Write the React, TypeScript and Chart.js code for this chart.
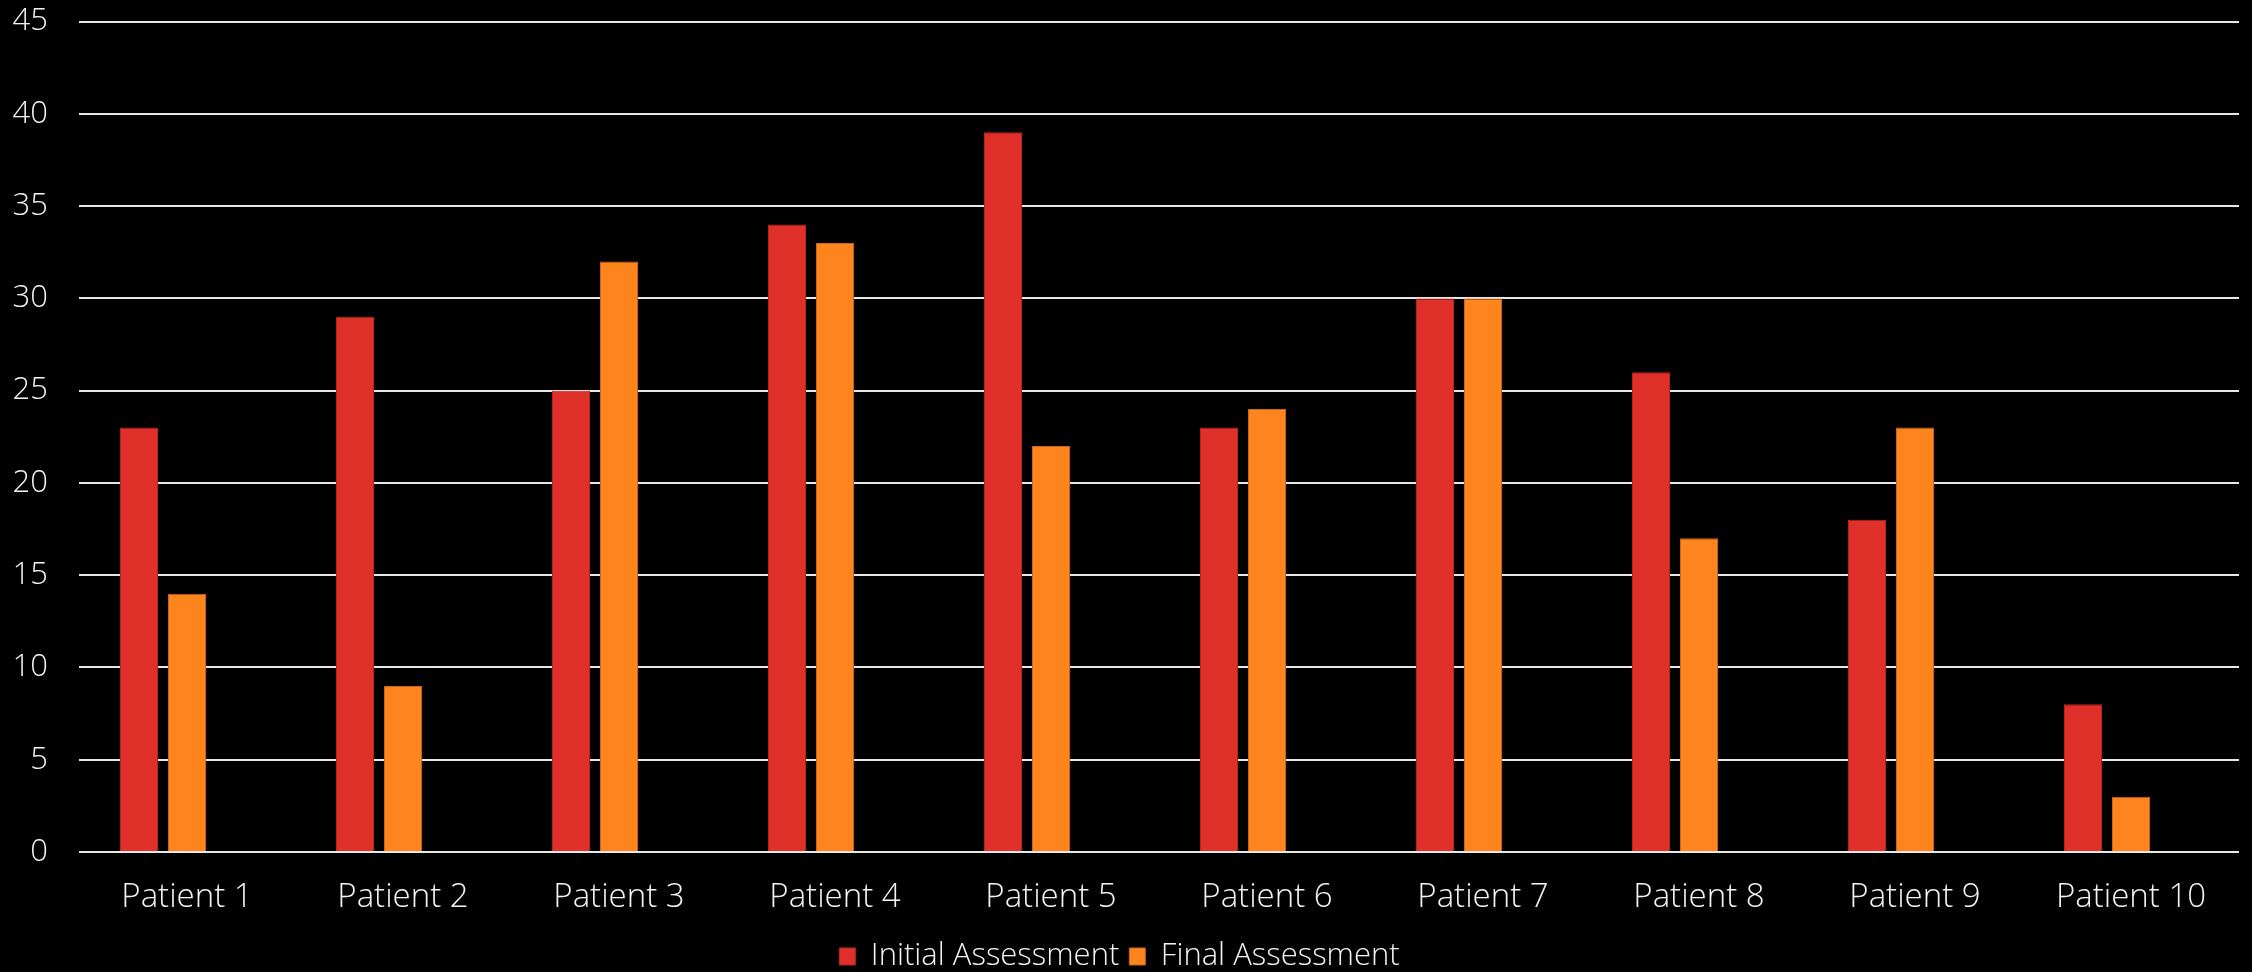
import React, { useEffect, useRef } from "react";
import { Chart, registerables } from "chart.js";

Chart.register(...registerables);

const categories = ["Patient 1", "Patient 2", "Patient 3", "Patient 4", "Patient 5", "Patient 6", "Patient 7", "Patient 8", "Patient 9", "Patient 10"];
const initialAssessment = [23, 29, 25, 34, 39, 23, 30, 26, 18, 8];
const finalAssessment = [14, 9, 32, 33, 22, 24, 30, 17, 23, 3];
const emptySeries: (number | null)[] = [null, null, null, null, null, null, null, null, null, null];
const yTicks = [0, 5, 10, 15, 20, 25, 30, 35, 40, 45];

const FONT = "'Open Sans', sans-serif";

export default function App() {
  const ref = useRef<HTMLCanvasElement | null>(null);

  useEffect(() => {
    document.body.style.margin = "0";
    document.body.style.background = "#000";
    const canvas = ref.current;
    if (!canvas) return;
    const chart = new Chart(canvas, {
      type: "bar",
      data: {
        labels: categories,
        datasets: [
          { label: "Initial Assessment", data: initialAssessment, backgroundColor: "#E0302A", borderColor: "#B8261F", borderWidth: 1 },
          { label: "Final Assessment", data: finalAssessment, backgroundColor: "#FE841E", borderColor: "#C8661A", borderWidth: 1 },
          { label: "", data: emptySeries, backgroundColor: "transparent" },
        ],
      },
      options: {
        responsive: false,
        animation: false,
        maintainAspectRatio: false,
        datasets: { bar: { categoryPercentage: 0.6667, barPercentage: 0.792 } },
        layout: { padding: { top: 0, right: 13, left: 0, bottom: 0 } },
        plugins: {
          tooltip: { enabled: false },
          legend: {
            position: "bottom",
            maxHeight: 41,
            labels: {
              color: "#f2f2f2",
              font: { family: FONT, size: 31, weight: 300 },
              boxWidth: 16,
              boxHeight: 17,
              padding: 10,
              filter: (item) => item.text !== "",
            },
          },
        },
        scales: {
          x: {
            afterFit: (scale) => {
              scale.height = 79;
            },
            grid: { display: false, drawTicks: false },
            border: { display: false },
            ticks: { color: "#f2f2f2", font: { family: FONT, size: 33, weight: 300 }, padding: 26 },
          },
          y: {
            min: 0,
            max: 45,
            afterBuildTicks: (scale) => {
              scale.ticks = yTicks.map((v) => ({ value: v }));
            },
            afterFit: (scale) => {
              scale.width = 79;
            },
            grid: { color: "#e8e8e8", lineWidth: 2, drawTicks: true, tickLength: 28, tickColor: "transparent" },
            border: { display: false },
            ticks: { color: "#f2f2f2", font: { family: FONT, size: 31, weight: 300 }, padding: 3 },
          },
        },
      },
    });
    return () => chart.destroy();
  }, []);

  return (
    <div style={{ position: "fixed", left: 0, top: 0, width: 2252, height: 972, background: "#000" }}>
      <canvas ref={ref} width={2252} height={972} style={{ width: 2252, height: 972, display: "block" }} />
    </div>
  );
}
